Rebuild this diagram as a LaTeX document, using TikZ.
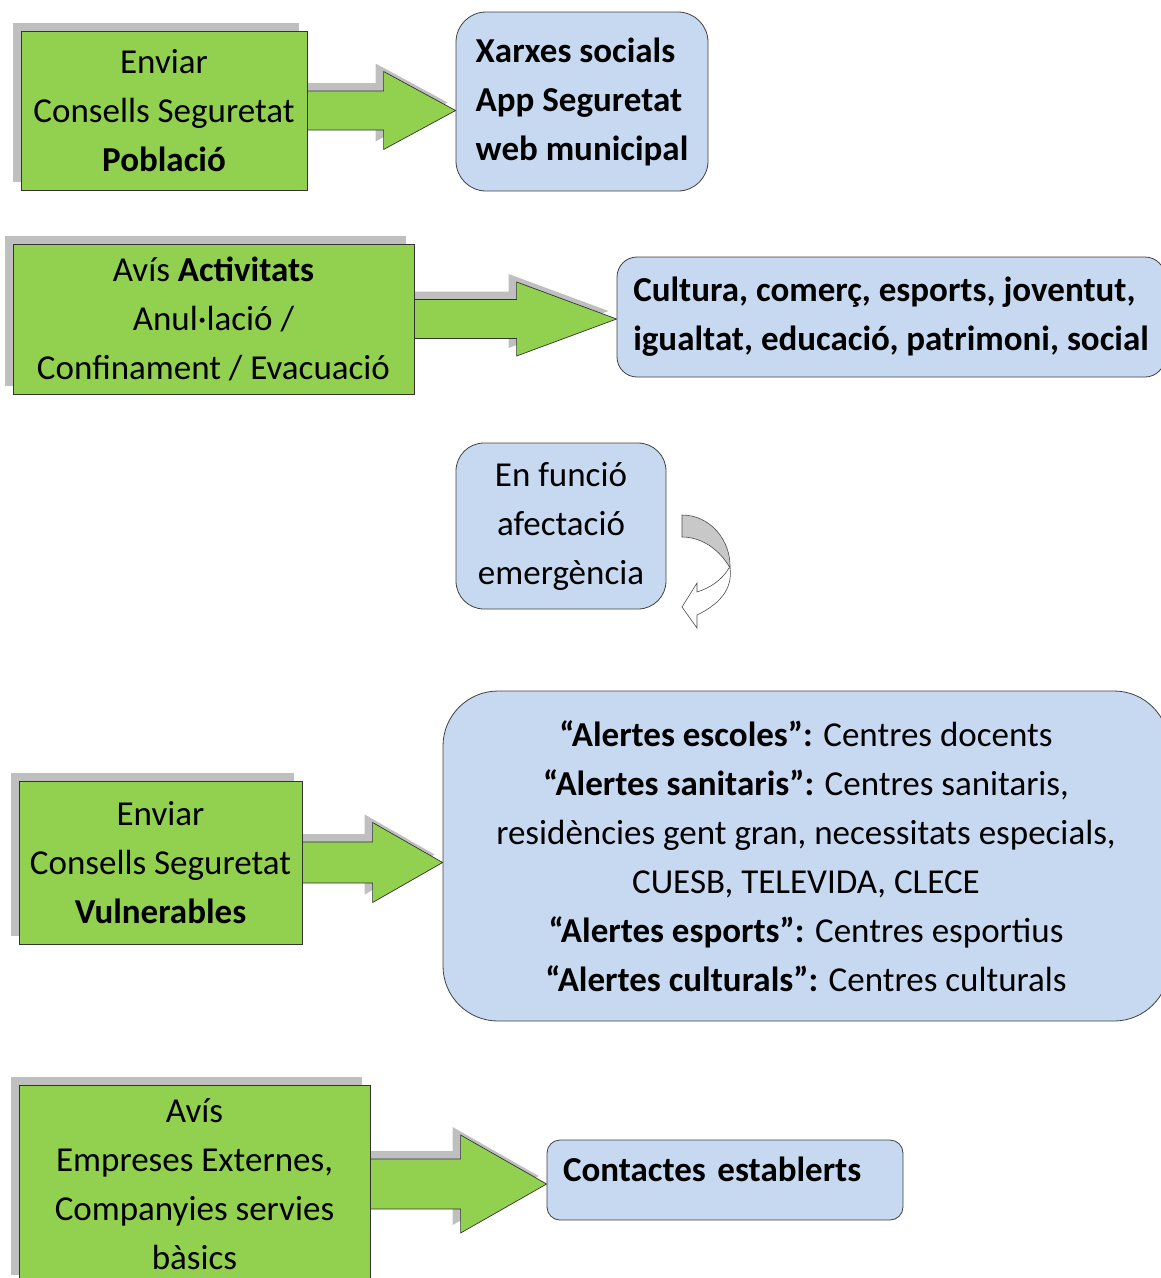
\documentclass[tikz,border=0pt]{standalone}
\usepackage{fontspec}
\setmainfont{Carlito}
\usetikzlibrary{calc,shadows,backgrounds}

\definecolor{boxgreen}{HTML}{92D050}
\definecolor{boxblue}{HTML}{C6D9F1}
\definecolor{shadowgray}{HTML}{BFBFBF}
\definecolor{curlgray}{HTML}{C8C8C8}

\tikzset{
  boxshadow/.style={drop shadow={shadow xshift=-8pt, shadow yshift=8pt, fill=shadowgray, opacity=1}},
  greenbox/.style={draw=black!80, fill=boxgreen, line width=0.8pt, inner sep=4pt, align=center, boxshadow},
  bluebox/.style={draw=black!75, fill=boxblue, line width=0.8pt, inner sep=4pt},
  greenarrow/.style={draw=black!80, fill=boxgreen, line width=0.7pt, line join=miter, boxshadow},
}

% block arrow: from, to, shaft half height, head half height, head length
\newcommand{\blockarrow}[5]{%
  \path[greenarrow] let \p1=(#1.east), \p2=(#2.west) in
    (\x1,{\y1+#3}) -- ({\x2-#5},{\y1+#3}) -- ({\x2-#5},{\y1+#4}) -- (\x2,\y1)
    -- ({\x2-#5},{\y1-#4}) -- ({\x2-#5},{\y1-#3}) -- (\x1,{\y1-#3}) -- cycle;
}

\begin{document}
\begin{tikzpicture}[x=1pt, y=-1pt, font=\fontsize{35}{49}\selectfont]
  \useasboundingbox (0,0) rectangle (1161,1278);

  %--- Població ---
  \node[greenbox, minimum width=286, minimum height=159] (pob) at (164,110.5)
    {Enviar\\Consells Seguretat\\\textbf{Població}};
  \node[bluebox, rounded corners=30, minimum width=252, minimum height=179, align=left] (canals) at (582,101.5)
    {\textbf{Xarxes socials}\\\textbf{App Seguretat}\\\textbf{web municipal}};

  %--- Activitats ---
  \node[greenbox, minimum width=401, minimum height=150] (act) at (213.5,319)
    {Avís \textbf{Activitats}\\Anul·lació /\\Confinament / Evacuació};
  \node[bluebox, rounded corners=20, minimum width=548, minimum height=120, align=left] (arees) at (891,317)
    {\textbf{Cultura, comerç, esports, joventut,}\\\textbf{igualtat, educació, patrimoni, social}};

  %--- En funció afectació ---
  \node[bluebox, rounded corners=28, minimum width=210, minimum height=166, align=center] (funcio) at (561,526)
    {En funció\\afectació\\emergència};
  \fill[curlgray, draw=black!70, line width=0.6pt]
    (682,515) .. controls (710,515) and (731,540) .. (730,568)
    .. controls (720,550) and (702,537) .. (682,537) -- cycle;
  \fill[white, draw=black!70, line width=0.6pt]
    (729,568) .. controls (722,580) and (710,588) .. (697,592)
    -- (697,583) -- (682,607) -- (697,628) -- (697,615)
    .. controls (718,605) and (733,590) .. (730,568);

  %--- Vulnerables ---
  \node[greenbox, minimum width=283, minimum height=163] (vuln) at (160.5,862.5)
    {Enviar\\Consells Seguretat\\\textbf{Vulnerables}};
  \node[bluebox, rounded corners=55, minimum width=726, minimum height=330, align=center] (alertes) at (806,856)
    {\textbf{“Alertes escoles”:} Centres docents\\
     \textbf{“Alertes sanitaris”:} Centres sanitaris,\\
     residències gent gran, necessitats especials,\\
     CUESB, TELEVIDA, CLECE\\
     \textbf{“Alertes esports”:} Centres esportius\\
     \textbf{“Alertes culturals”:} Centres culturals};

  %--- Empreses ---
  \node[greenbox, minimum width=351, minimum height=198] (empreses) at (194.5,1184)
    {Avís\\Empreses Externes,\\Companyies servies\\bàsics};
  \node[bluebox, rounded corners=13, minimum width=356, minimum height=80, inner xsep=16pt,
        text width=324, text depth=22pt, align=left] (contactes) at (725,1180)
    {\textbf{Contactes establerts}};

  %--- block arrows ---
  \begin{pgfonlayer}{background}
    \blockarrow{pob}{canals}{19.5pt}{39pt}{72pt}
    \blockarrow{act}{arees}{19.5pt}{37pt}{100pt}
    \blockarrow{vuln}{alertes}{20.5pt}{40pt}{70pt}
    \blockarrow{empreses}{contactes}{25pt}{49pt}{86pt}
  \end{pgfonlayer}

\end{tikzpicture}
\end{document}
